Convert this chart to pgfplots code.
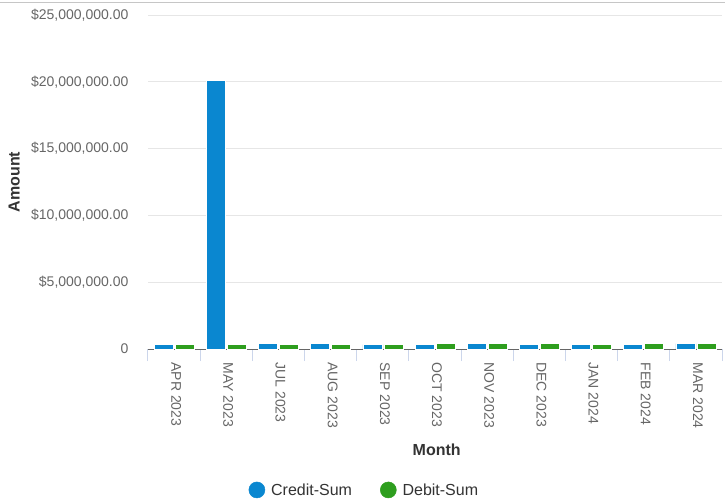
\documentclass[border=0pt]{standalone}
\usepackage{pgfplots}
\pgfplotsset{compat=1.18}
\usepackage{fontspec}
\setmainfont{Liberation Sans}
\definecolor{cblue}{HTML}{0A87D0}
\definecolor{cgreen}{HTML}{2E9E1E}
\definecolor{ticktxt}{HTML}{666666}
\definecolor{titletxt}{HTML}{333333}
\definecolor{gridc}{HTML}{E6E6E6}
\definecolor{tickc}{HTML}{CCD6EB}
\begin{document}
\begin{tikzpicture}
\useasboundingbox (-148pt,-150pt) rectangle (577pt,349pt);
\draw[gray!45, line width=1pt] (-148pt,346pt) -- (577pt,346pt);
\begin{axis}[
  at={(0pt,0pt)}, anchor=south west,
  scale only axis,
  width=574pt, height=334pt,
  ybar=2pt, bar width=19pt,
  xmin=-0.5, xmax=10.5,
  ymin=0, ymax=25000000,
  scaled y ticks=false,
  xtick={0,...,10},
  xticklabels={APR 2023,MAY 2023,JUL 2023,AUG 2023,SEP 2023,OCT 2023,NOV 2023,DEC 2023,JAN 2024,FEB 2024,MAR 2024},
  minor xtick={-0.5,0.5,...,10.5},
  major tick length=0pt,
  minor tick length=12pt,
  tick align=outside,
  xtick pos=bottom, ytick pos=left,
  minor tick style={tickc, line width=1pt},
  ytick={0,5000000,10000000,15000000,20000000,25000000},
  yticklabels={0,{\$5,000,000.00},{\$10,000,000.00},{\$15,000,000.00},{\$20,000,000.00},{\$25,000,000.00}},
  ymajorgrids, grid style={gridc, line width=1pt},
  axis x line*=bottom,
  axis y line*=left,
  y axis line style={draw=none},
  x axis line style={gray!80!black, line width=1pt, -},
  xticklabel style={rotate=-90, anchor=west, font=\fontsize{14}{16}\selectfont, text=ticktxt, xshift=10pt, yshift=2pt},
  yticklabel style={font=\fontsize{14}{16}\selectfont, text=ticktxt, xshift=-16pt},
  xlabel={\textbf{Month}},
  ylabel={\textbf{Amount}},
  xlabel style={font=\fontsize{16}{18}\selectfont, text=titletxt, at={(axis description cs:0.503,-0.302)}, anchor=center},
  ylabel style={font=\fontsize{16}{18}\selectfont, text=titletxt, at={(axis description cs:-0.233,0.5)}, anchor=center},
  legend columns=2,
  legend style={draw=none, at={(axis description cs:0.377,-0.422)}, anchor=center,
    font=\fontsize{16}{18}\selectfont, text=titletxt,
    /tikz/every even column/.append style={column sep=26pt}},
  clip=false,
]
\addplot[fill=cblue, draw=white, line width=0.5pt,
  legend image code/.code={\fill[cblue] (0pt,0pt) circle (8pt); \path (12pt,0pt);}]
  coordinates {(0,320000) (1,20100000) (2,400000) (3,400000) (4,320000) (5,320000) (6,400000) (7,320000) (8,320000) (9,320000) (10,400000)};
\addplot[fill=cgreen, draw=white, line width=0.5pt,
  legend image code/.code={\fill[cgreen] (0pt,0pt) circle (8pt); \path (12pt,0pt);}]
  coordinates {(0,320000) (1,320000) (2,320000) (3,320000) (4,320000) (5,400000) (6,400000) (7,400000) (8,320000) (9,400000) (10,400000)};
\legend{Credit-Sum,Debit-Sum}
\end{axis}
\end{tikzpicture}
\end{document}
